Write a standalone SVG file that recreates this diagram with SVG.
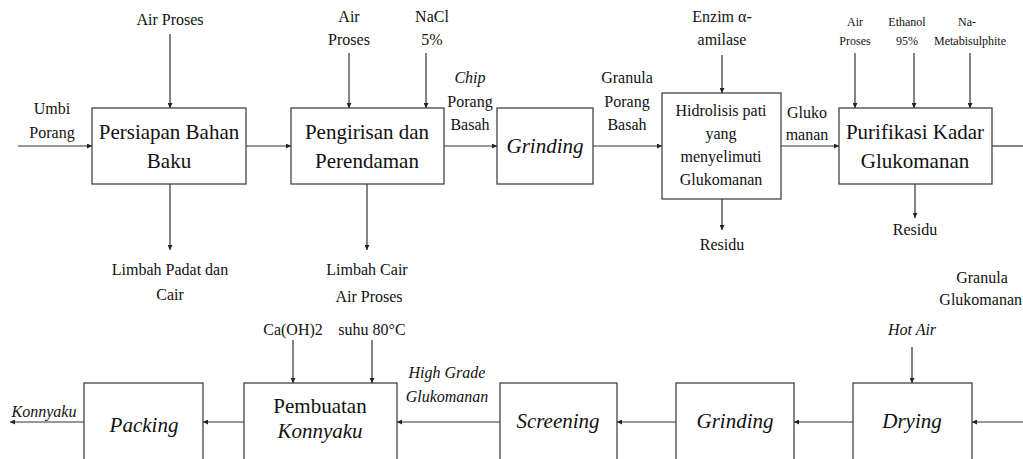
<svg xmlns="http://www.w3.org/2000/svg" width="1023" height="459" viewBox="0 0 1023 459" font-family="'Liberation Serif', 'Times New Roman', 'DejaVu Serif', serif">
<defs>
<style>
text{font-family:'Liberation Serif','Times New Roman','DejaVu Serif',serif;fill:#111;text-anchor:middle}
.lb{font-size:16px}
.sm{font-size:12px}
.bx{font-size:21px}
.bm{font-size:16px}
.it{font-style:italic}
rect{fill:#fff;stroke:#444;stroke-width:1.3}
.c line{stroke:#333;stroke-width:1.2;marker-end:url(#ah)}
.c line.n{marker-end:none}
</style>
<marker id="ah" viewBox="0 0 10 10" refX="10" refY="5" markerWidth="5" markerHeight="5" orient="auto" markerUnits="userSpaceOnUse"><path d="M0,0 L10,5 L0,10 z" fill="#222"/></marker>
</defs>
<rect x="0" y="0" width="1023" height="459" style="fill:#fff;stroke:none"/>

<g id="n1"><rect x="92" y="108" width="154" height="76"/><text class="bx" x="169" y="139">Persiapan Bahan</text><text class="bx" x="169" y="168">Baku</text></g>
<g id="n2"><rect x="291" y="108" width="153" height="76"/><text class="bx" x="367" y="139">Pengirisan dan</text><text class="bx" x="367" y="168">Perendaman</text></g>
<g id="n3"><rect x="497" y="108" width="96" height="76"/><text class="bx it" x="545" y="153">Grinding</text></g>
<g id="n4"><rect x="662" y="93" width="119" height="106"/><text class="bm" x="721" y="116">Hidrolisis pati</text><text class="bm" x="721" y="139">yang</text><text class="bm" x="721" y="162">menyelimuti</text><text class="bm" x="721" y="185">Glukomanan</text></g>
<g id="n5"><rect x="839" y="108" width="153" height="76"/><text class="bx" x="915" y="139">Purifikasi Kadar</text><text class="bx" x="915" y="168">Glukomanan</text></g>
<g id="n6"><rect x="853" y="383" width="119" height="90"/><text class="bx it" x="912" y="428">Drying</text></g>
<g id="n7"><rect x="676" y="383" width="118" height="90"/><text class="bx it" x="735" y="428">Grinding</text></g>
<g id="n8"><rect x="500" y="383" width="117" height="90"/><text class="bx it" x="558" y="428">Screening</text></g>
<g id="n9"><rect x="244" y="383" width="153" height="90"/><text class="bx" x="320" y="413">Pembuatan</text><text class="bx it" x="320" y="438">Konnyaku</text></g>
<g id="n10"><rect x="84" y="383" width="119" height="90"/><text class="bx it" x="144" y="432">Packing</text></g>

<g id="connectors" class="c">
<line x1="18" y1="146" x2="92" y2="146"/>
<line x1="170" y1="34" x2="170" y2="108"/>
<line x1="170" y1="184" x2="170" y2="250"/>
<line x1="246" y1="146" x2="291" y2="146"/>
<line x1="349" y1="53" x2="349" y2="108"/>
<line x1="426" y1="53" x2="426" y2="108"/>
<line x1="367" y1="184" x2="367" y2="250"/>
<line x1="444" y1="146" x2="497" y2="146"/>
<line x1="593" y1="146" x2="662" y2="146"/>
<line x1="722" y1="55" x2="722" y2="93"/>
<line x1="722" y1="199" x2="722" y2="230"/>
<line x1="781" y1="146" x2="839" y2="146"/>
<line x1="855" y1="53" x2="855" y2="108"/>
<line x1="914" y1="53" x2="914" y2="108"/>
<line x1="970" y1="53" x2="970" y2="108"/>
<line x1="915" y1="184" x2="915" y2="218"/>
<line class="n" x1="992" y1="146" x2="1023" y2="146"/>
<line x1="1023" y1="422" x2="972" y2="422"/>
<line x1="912" y1="347" x2="912" y2="383"/>
<line x1="853" y1="422" x2="794" y2="422"/>
<line x1="676" y1="422" x2="617" y2="422"/>
<line x1="500" y1="422" x2="397" y2="422"/>
<line x1="293" y1="340" x2="293" y2="383"/>
<line x1="372" y1="340" x2="372" y2="383"/>
<line x1="244" y1="422" x2="203" y2="422"/>
<line x1="84" y1="422" x2="10" y2="422"/>
</g>

<g id="labels">
<text class="lb" x="52" y="114">Umbi</text>
<text class="lb" x="52" y="138">Porang</text>
<text class="lb" x="170" y="25">Air Proses</text>
<text class="lb" x="170" y="275">Limbah Padat dan</text>
<text class="lb" x="170" y="300">Cair</text>
<text class="lb" x="349" y="22">Air</text>
<text class="lb" x="349" y="45">Proses</text>
<text class="lb" x="432" y="22">NaCl</text>
<text class="lb" x="432" y="45">5%</text>
<text class="lb" x="367" y="275">Limbah Cair</text>
<text class="lb it" x="470" y="83">Chip</text>
<text class="lb" x="470" y="107">Porang</text>
<text class="lb" x="470" y="130">Basah</text>
<text class="lb" x="627" y="83">Granula</text>
<text class="lb" x="627" y="107">Porang</text>
<text class="lb" x="627" y="130">Basah</text>
<text class="lb" x="722" y="22">Enzim α-</text>
<text class="lb" x="722" y="45">amilase</text>
<text class="lb" x="722" y="250">Residu</text>
<text class="lb" x="807" y="118">Gluko</text>
<text class="lb" x="807" y="140">manan</text>
<text class="sm" x="855" y="26">Air</text>
<text class="sm" x="855" y="45">Proses</text>
<text class="sm" x="907" y="26">Ethanol</text>
<text class="sm" x="907" y="45">95%</text>
<text class="sm" x="967" y="26">Na-</text>
<text class="sm" x="970" y="45">Metabisulphite</text>
<text class="lb" x="982" y="283">Granula</text>
<text class="lb" x="1022" y="305" style="text-anchor:end">Glukomanan</text>
<text class="lb" x="915" y="235">Residu</text>
<text class="lb it" x="912" y="335">Hot Air</text>
<text class="lb it" x="447" y="378">High Grade</text>
<text class="lb it" x="447" y="402">Glukomanan</text>
<text class="lb" x="369" y="302">Air Proses</text>
<text class="lb" x="372" y="335">suhu 80°C</text>
<text class="lb" x="293" y="335">Ca(OH)2</text>
<text class="lb it" x="44" y="417">Konnyaku</text>
</g>
</svg>
